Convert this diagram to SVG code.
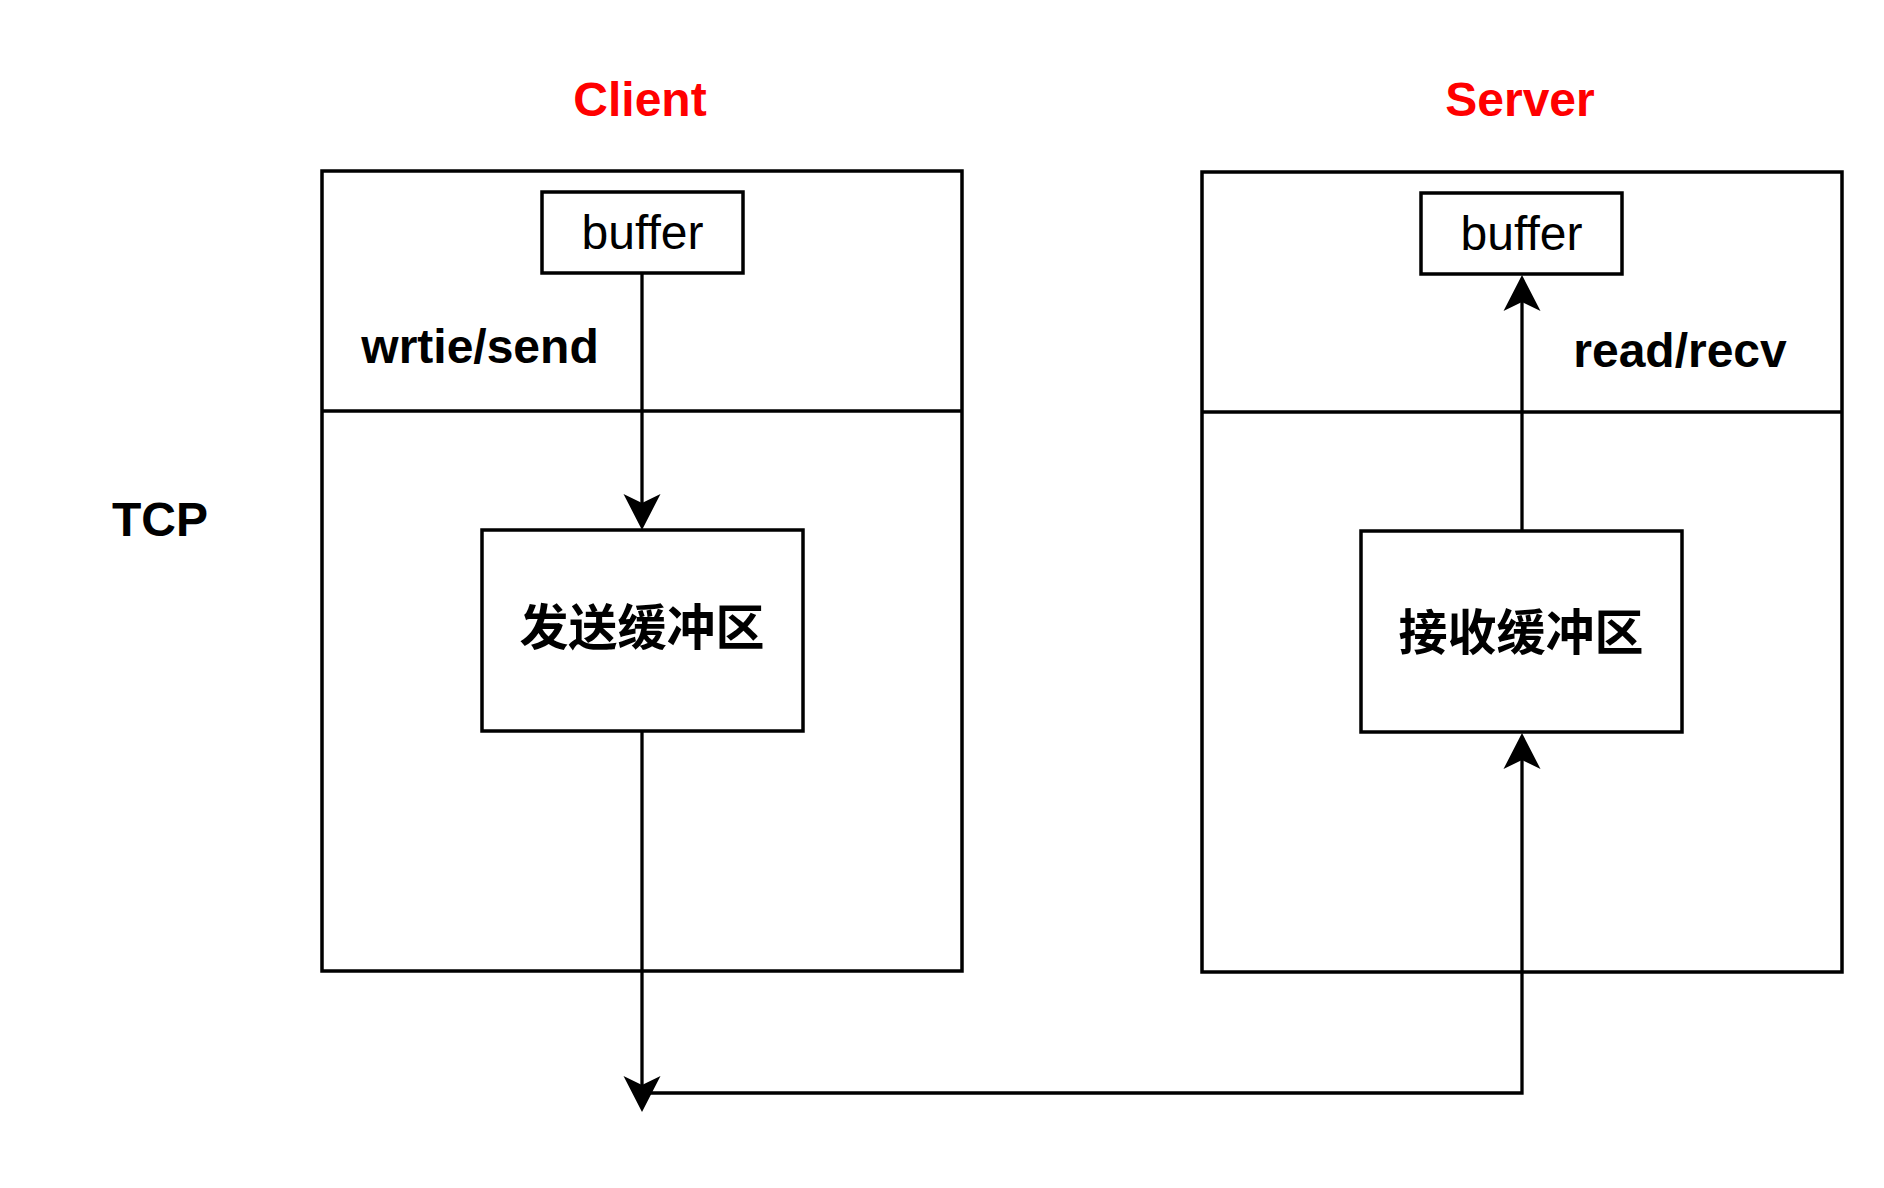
<svg xmlns="http://www.w3.org/2000/svg" width="1884" height="1188" viewBox="0 0 1884 1188">
<style>
.box{fill:#fff;stroke:#000;stroke-width:3.5}
.ln{fill:none;stroke:#000;stroke-width:3.5}
.edge{fill:none;stroke:#000;stroke-width:3.3;marker-end:url(#arr)}
.t{font-family:"Liberation Sans",Arial,sans-serif;font-size:48px;fill:#000;text-anchor:middle}
.b{font-weight:bold}
.red{fill:#ff0000}
.cjk{font-family:"Liberation Sans","Noto Sans CJK SC",sans-serif;font-weight:bold;font-size:49px;text-anchor:middle}
</style>
<defs>
<marker id="arr" markerUnits="userSpaceOnUse" markerWidth="60" markerHeight="60" refX="0" refY="0" viewBox="-20 -30 60 60" orient="auto" overflow="visible">
<path d="M27,0 L-9,-18.5 L0,0 L-9,18.5 Z" fill="#000" stroke="none"/>
</marker>
</defs>
<rect width="1884" height="1188" fill="#fff"/>
<g id="titles">
<text class="t b red" x="640" y="116">Client</text>
<text class="t b red" x="1520" y="116">Server</text>
<text class="t b" x="160" y="536">TCP</text>
</g>
<g id="client">
<rect class="box" x="322" y="171" width="640" height="800"/>
<line class="ln" x1="322" y1="411" x2="962" y2="411"/>
<text class="t b" x="480" y="363">wrtie/send</text>
</g>
<g id="server">
<rect class="box" x="1202" y="172" width="640" height="800"/>
<line class="ln" x1="1202" y1="412" x2="1842" y2="412"/>
<text class="t b" x="1680" y="367">read/recv</text>
</g>
<g id="client-buffer">
<rect class="box" x="542" y="192" width="201" height="81"/>
<text class="t" x="642.5" y="249">buffer</text>
</g>
<g id="server-buffer">
<rect class="box" x="1421" y="193" width="201" height="81"/>
<text class="t" x="1521.5" y="250">buffer</text>
</g>
<g id="send-buffer">
<rect class="box" x="482" y="530" width="321" height="201"/>
<text class="cjk" x="642" y="645">发送缓冲区</text>
</g>
<g id="recv-buffer">
<rect class="box" x="1361" y="531" width="321" height="201"/>
<text class="cjk" x="1521" y="650">接收缓冲区</text>
</g>
<g id="connectors">
<path class="edge" d="M642,273 V503"/>
<path class="edge" d="M642,731 V1085"/>
<path class="edge" d="M1522,531 V302"/>
<path class="edge" d="M642,1093 H1522 V760"/>
</g>
</svg>
